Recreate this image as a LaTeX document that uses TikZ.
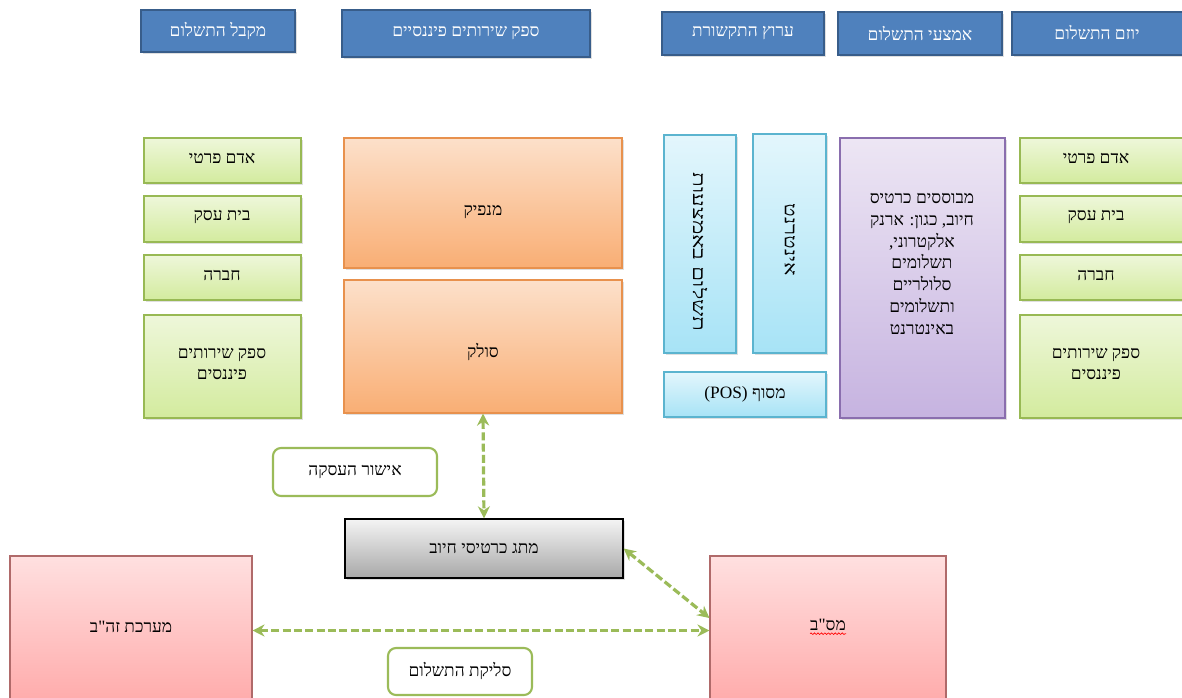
\documentclass[tikz,border=0pt]{standalone}
\usepackage{graphicx}
\usepackage{fontspec}
\newfontfamily\hebfont[Script=Hebrew]{Liberation Serif}
\TeXXeTstate=1
\usetikzlibrary{fit,arrows.meta,shadows,decorations.pathmorphing}
\newcommand{\heb}[1]{{\hebfont\beginR #1\endR}}
\definecolor{hdrblue}{HTML}{4F81BD}
\definecolor{hdrborder}{HTML}{385D8A}
\definecolor{grnT}{HTML}{EEF7DA}
\definecolor{grnBot}{HTML}{D3EB9E}
\definecolor{grnB}{HTML}{98B954}
\definecolor{orT}{HTML}{FCE0CA}
\definecolor{orBot}{HTML}{F9AE74}
\definecolor{orB}{HTML}{E8914D}
\definecolor{blT}{HTML}{E3F6FC}
\definecolor{blBot}{HTML}{A7E3F6}
\definecolor{blB}{HTML}{5BB4CF}
\definecolor{puT}{HTML}{EDE6F4}
\definecolor{puBot}{HTML}{C6B3E0}
\definecolor{puB}{HTML}{8A6EAE}
\definecolor{pkT}{HTML}{FFE0E0}
\definecolor{pkBot}{HTML}{FFAAAA}
\definecolor{pkB}{HTML}{B06A6A}
\definecolor{gyT}{HTML}{F4F4F4}
\definecolor{gyBot}{HTML}{A8A8A8}
\definecolor{arrgreen}{HTML}{9BBB59}
\tikzset{
  base/.style={draw, inner sep=0pt, line width=0.8pt},
  shad/.style={drop shadow={opacity=0.25, shadow xshift=1.5pt, shadow yshift=-1.5pt}},
  hdr/.style={base, shad, fill=hdrblue, draw=hdrborder},
  gbox/.style={base, shad, draw=grnB, top color=grnT, bottom color=grnBot},
  obox/.style={base, shad, draw=orB, top color=orT, bottom color=orBot},
  bbox/.style={base, shad, draw=blB, top color=blT, bottom color=blBot},
  pbox/.style={base, shad, draw=puB, top color=puT, bottom color=puBot},
  kbox/.style={base, draw=pkB, top color=pkT, bottom color=pkBot},
  gybox/.style={base, shad, draw=black, line width=1pt, top color=gyT, bottom color=gyBot},
  lbl/.style={base, draw=arrgreen, line width=1.6pt, rounded corners=6pt, fill=white},
  txt/.style={inner sep=0pt, align=center, font=\hebfont\fontsize{13}{16.2}\selectfont},
  wtxt/.style={txt, text=white},
  conn/.style={draw=arrgreen, line width=2.4pt, dash pattern=on 6pt off 2.5pt,
    {Stealth[length=9pt,width=9pt]}-{Stealth[length=9pt,width=9pt]}}
}
\begin{document}
\begin{tikzpicture}[x=0.75pt,y=-0.75pt]
\useasboundingbox (0,0) rectangle (1182,697);
\fill[white] (0,0) rectangle (1182,697);
% headers
\node[hdr, fit={(141,10)(295,52)}] (h1) {};
\node[wtxt] (h1t) at (h1.center) {\heb{מקבל התשלום}};
\node[hdr, fit={(342,10)(590,57)}] (h2) {};
\node[wtxt] (h2t) at (h2.center) {\heb{ספק שירותים פיננסיים}};
\node[hdr, fit={(662,12)(824,55)}] (h3) {};
\node[wtxt] (h3t) at (h3.center) {\heb{ערוץ התקשורת}};
\node[hdr, fit={(838,12)(1002,55)}] (h4) {};
\node[wtxt] (h4t) at (h4.center) {\heb{אמצעי התשלום}};
\node[hdr, fit={(1012,12)(1190,55)}] (h5) {};
\node[wtxt] (h5t) at (1097,33) {\heb{יוזם התשלום}};
% left green column
\node[gbox, fit={(144,138)(301,183)}] (l1) {};
\node[txt] (l1t) at (222,158) {\heb{אדם פרטי}};
\node[gbox, fit={(144,196)(301,242)}] (l2) {};
\node[txt] (l2t) at (222,217) {\heb{בית עסק}};
\node[gbox, fit={(144,255)(301,300)}] (l3) {};
\node[txt] (l3t) at (222,275) {\heb{חברה}};
\node[gbox, fit={(144,315)(301,418)}] (l4) {};
\node[txt] (l4t) at (222,364) {\heb{ספק שירותים}\\\heb{פיננסים}};
% right green column
\node[gbox, fit={(1020,138)(1190,183)}] (r1) {};
\node[gbox, fit={(1020,196)(1190,242)}] (r2) {};
\node[gbox, fit={(1020,255)(1190,300)}] (r3) {};
\node[gbox, fit={(1020,315)(1190,418)}] (r4) {};
\node[txt] (r1t) at (1096,158) {\heb{אדם פרטי}};
\node[txt] (r2t) at (1096,217) {\heb{בית עסק}};
\node[txt] (r3t) at (1096,275) {\heb{חברה}};
\node[txt] (r4t) at (1096,364) {\heb{ספק שירותים}\\\heb{פיננסים}};
% orange
\node[obox, fit={(344,138)(622,268)}] (nf) {};
\node[txt] (nft) at (483,212) {\heb{מנפיק}};
\node[obox, fit={(344,280)(622,413)}] (sl) {};
\node[txt] (slt) at (483,352) {\heb{סולק}};
% light blue
\node[bbox, fit={(664,135)(736,353)}] (b1) {};
\node[bbox, fit={(753,134)(826,353)}] (b2) {};
\node[txt, rotate=-90] (b1t) at (700,252) {\scalebox{1.4}[1]{\heb{תשלום באמצעות}}};
\node[txt, rotate=-90] (b2t) at (790,240) {\scalebox{1.3}[1]{\heb{אינטרנט}}};
\node[bbox, fit={(664,372)(826,417)}] (pos) {};
\node[txt] (post) at (pos.center) {\beginR מסוף \beginL(POS)\endL\endR};
% purple
\node[pbox, fit={(840,138)(1005,418)}] (pm) {};
\node[txt, font=\hebfont\fontsize{13}{16.3}\selectfont] (pmt) at (922,264)
  {\heb{מבוססים כרטיס}\\\heb{חיוב, כגון: ארנק}\\\heb{אלקטרוני,}\\\heb{תשלומים}\\\heb{סלולריים}\\\heb{ותשלומים}\\\heb{באינטרנט}};
% switch
\node[gybox, fit={(345,519)(623,578)}] (sw) {};
\node[txt] (swt) at (sw.center) {\heb{מתג כרטיסי חיוב}};
% pink
\node[kbox, fit={(10,556)(252,705)}] (zhb) {};
\node[txt] (zhbt) at (131,627) {\heb{מערכת זה"ב}};
\node[kbox, fit={(710,556)(946,705)}] (msb) {};
\node[txt] (msbt) at (828,625) {\heb{מס"ב}};
\draw[red, line width=0.5pt, decorate, decoration={snake, amplitude=0.6pt, segment length=2.6pt}]
  ([yshift=-2pt]msbt.south west) -- ([yshift=-2pt]msbt.south east);
% labels
\node[lbl, fit={(273,448)(437,496)}] (ok) {};
\node[txt] (okt) at (ok.center) {\heb{אישור העסקה}};
\node[lbl, fit={(388,648)(532,695)}] (clr) {};
\node[txt] (clrt) at (clr.center) {\heb{סליקת התשלום}};
% connectors
\draw[conn] (sl.south) -- (sw.north);
\draw[conn] (zhb.east) -- (msb.west);
\draw[conn] (sw.east) -- (msb.174);
\end{tikzpicture}
\end{document}
